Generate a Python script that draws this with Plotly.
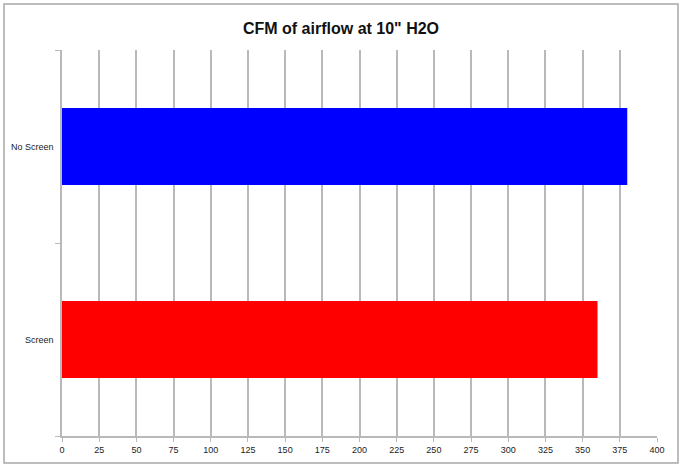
import plotly.graph_objects as go

FONT = "Liberation Sans"
GRID = "#b9b9b9"

categories = ["Screen", "No Screen"]
cfm_values = [360, 380]
bar_colors = ["#FF0000", "#0000FF"]

fig = go.Figure(go.Bar(
    y=categories,
    x=cfm_values,
    orientation="h",
    marker=dict(color=bar_colors, line=dict(width=0)),
    width=0.4,
    hoverinfo="x+y",
))

# ── Layout ────────────────────────────────────────────────────────────────────
W, H = 682, 467
ML, MR, MT, MB = 62, 25, 50, 31
pw, ph = W - ML - MR, H - MT - MB

fig.update_layout(
    width=W,
    height=H,
    margin=dict(l=ML, r=MR, t=MT, b=MB),
    paper_bgcolor="white",
    plot_bgcolor="white",
    font=dict(family=FONT, size=9, color="#222222"),
    title=dict(
        text="<b>CFM of airflow at 10\" H2O</b>",
        font=dict(family=FONT, size=16, color="#111111"),
        x=0.5, xanchor="center", y=0.94, yanchor="middle",
    ),
    showlegend=False,
    xaxis=dict(
        range=[0, 400],
        tick0=0, dtick=25,
        showgrid=True, gridcolor=GRID, gridwidth=1.5,
        showline=True, linecolor=GRID, linewidth=1.5,
        ticks="outside", ticklen=4, tickcolor=GRID,
        zeroline=False,
        fixedrange=True,
    ),
    yaxis=dict(
        type="category",
        range=[-0.5, 1.5],
        showgrid=False,
        showline=True, linecolor=GRID, linewidth=1.5,
        ticks="outside", ticklen=5, tickcolor=GRID,
        tickson="boundaries",
        ticksuffix="  ",
        fixedrange=True,
    ),
    shapes=[dict(
        type="rect", xref="paper", yref="paper",
        x0=(4 - ML) / pw, x1=(678 - ML) / pw,
        y0=(H - MB - 463) / ph, y1=(H - MB - 4) / ph,
        line=dict(color="#a8a8a8", width=1.5),
        layer="below",
    )],
)

# page body has an 8px default margin; drop it so the figure fills the window
fig.write_html(
    "out.html",
    config={"displayModeBar": False},
    post_script="document.body.style.margin='0';",
)
